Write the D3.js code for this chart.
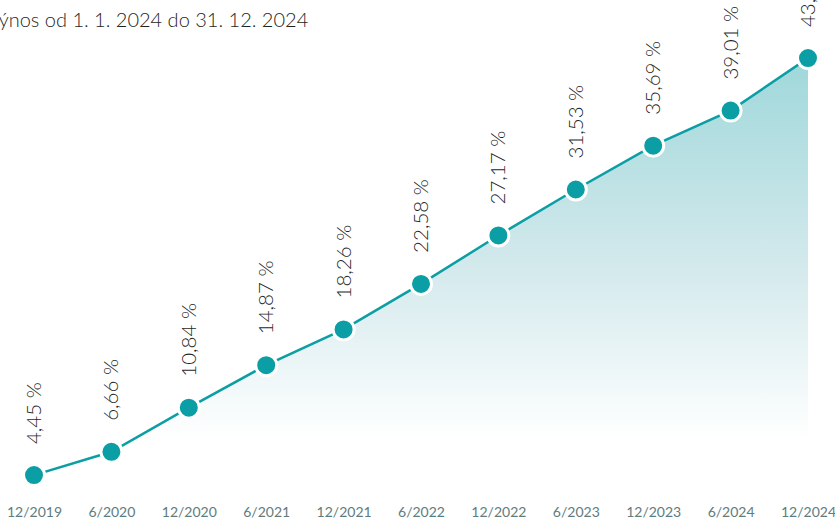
<!DOCTYPE html>
<html>
<head>
<meta charset="utf-8">
<script src="https://cdn.jsdelivr.net/npm/d3@7"></script>
<style>
  body { margin: 0; background: #fff; }
  svg { display: block; font-family: Lato, "Noto Sans", sans-serif; }
</style>
</head>
<body>
<div id="chart"></div>
<script>
// data
const periods = ['12/2019', '6/2020', '12/2020', '6/2021', '12/2021', '6/2022', '12/2022', '6/2023', '12/2023', '6/2024', '12/2024'];
const returns = [4.45, 6.66, 10.84, 14.87, 18.26, 22.58, 27.17, 31.53, 35.69, 39.01, 43.99];
const title = 'Výnos od 1. 1. 2024 do 31. 12. 2024';

const width = 835, height = 522;
const teal = '#0b9ea4';

const svg = d3.select('#chart').append('svg')
    .attr('width', width)
    .attr('height', height);

const data = periods.map((p, i) => ({period: p, value: returns[i]}));

const xScale = d3.scalePoint()
    .domain(periods)
    .range([34, 808]);

const yScale = d3.scaleLinear()
    .domain([0, 49.5])
    .range([522, 0]);

// gradient for the area
const grad = svg.append('defs').append('linearGradient')
    .attr('id', 'areaGrad')
    .attr('gradientUnits', 'userSpaceOnUse')
    .attr('x1', 0).attr('x2', 0)
    .attr('y1', 50).attr('y2', 440);
grad.append('stop').attr('offset', '0%').attr('stop-color', '#9dd7da');
grad.append('stop').attr('offset', '55%').attr('stop-color', '#d3e9ec');
grad.append('stop').attr('offset', '100%').attr('stop-color', '#ffffff');

const area = d3.area()
    .x(d => xScale(d.period))
    .y0(440)
    .y1(d => yScale(d.value));

svg.append('path')
    .datum(data)
    .attr('d', area)
    .attr('fill', 'url(#areaGrad)');

const line = d3.line()
    .x(d => xScale(d.period))
    .y(d => yScale(d.value));

svg.append('path')
    .datum(data)
    .attr('d', line)
    .attr('fill', 'none')
    .attr('stroke', teal)
    .attr('stroke-width', 2.5);

svg.selectAll('.dot')
    .data(data)
    .join('circle')
    .attr('class', 'dot')
    .attr('cx', d => xScale(d.period))
    .attr('cy', d => yScale(d.value))
    .attr('r', 10.5)
    .attr('fill', teal)
    .attr('stroke', '#fff')
    .attr('stroke-width', 3);

// value labels, rotated
svg.selectAll('.val')
    .data(data)
    .join('text')
    .attr('class', 'val')
    .attr('transform', d => `translate(${xScale(d.period) + 7},${yScale(d.value) - 31}) rotate(-90)`)
    .attr('fill', '#1f1f1f')
    .style('font-size', '20.5px')
    .style('font-weight', 300)
    .text(d => d.value.toFixed(2).replace('.', ',') + ' %');

// x axis
const xAxis = d3.axisBottom(xScale).tickSize(0).tickPadding(0);
const xAxisG = svg.append('g')
    .attr('transform', 'translate(0,507)')
    .call(xAxis);
xAxisG.select('.domain').remove();
xAxisG.selectAll('text')
    .attr('fill', '#5e7c7e')
    .style('font-size', '14px')
    .style('font-family', 'Lato, "Noto Sans", sans-serif');

// title, cut on the left as in the original
svg.append('text')
    .attr('x', -14)
    .attr('y', 27)
    .attr('fill', '#1f1f1f')
    .style('font-size', '20px')
    .style('font-weight', 300)
    .text(title);
</script>
</body>
</html>
